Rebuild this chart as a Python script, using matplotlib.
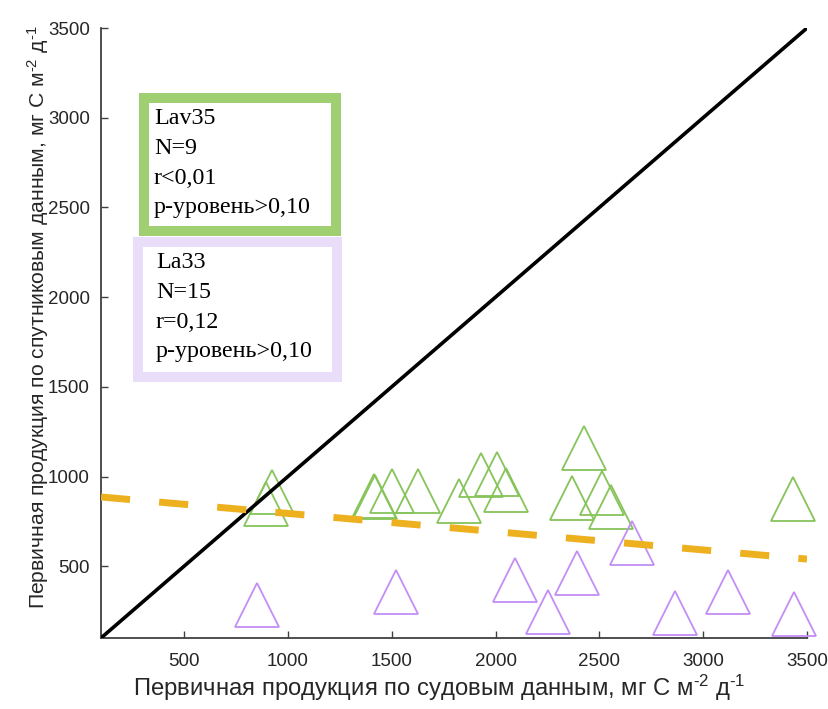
import matplotlib
matplotlib.use("Agg")
import matplotlib.pyplot as plt
from matplotlib.patches import Rectangle

plt.rcParams["mathtext.fontset"] = "custom"
plt.rcParams["mathtext.rm"] = "Liberation Sans"
plt.rcParams["mathtext.it"] = "Liberation Sans"
plt.rcParams["mathtext.default"] = "regular"

# Ship-based PP (x) vs satellite PP (y), mg C m-2 d-1
green_x = [924, 893, 1415, 1420, 1503, 1625, 1824, 1929, 2009, 2050, 2428, 2367, 2514, 2556, 3434]
green_y = [914, 849, 892, 886, 918, 918, 864, 1007, 1014, 923, 1160, 879, 909, 829, 872]
purple_x = [849, 1521, 2094, 2254, 2391, 2656, 2866, 3118, 3437]
purple_y = [282, 358, 423, 246, 461, 630, 242, 358, 231]

one_to_one = [100, 3500]
trend_x = [100, 3500]
trend_y = [886, 540]

ticks = [500, 1000, 1500, 2000, 2500, 3000, 3500]

box1_lines = ["Lav35", "N=9", "r<0,01", "p-уровень>0,10"]
box2_lines = ["La33", "N=15", "r=0,12", "p-уровень>0,10"]

W, H = 829, 709
fig = plt.figure(figsize=(W / 100, H / 100), dpi=100)
ax = fig.add_axes([101 / W, 1 - 638 / H, (807 - 101) / W, (638 - 28) / H])

axis_col = "#404040"
ax.plot(one_to_one, one_to_one, color="black", lw=2.6, zorder=3, solid_capstyle="butt")
ax.plot(trend_x, trend_y, color="#EDB120", lw=5, dashes=(4.2, 4.2), zorder=4)
ax.plot(green_x, green_y, linestyle="none", marker="^", ms=31, mfc="none",
        mec="#86C45A", mew=1.3, zorder=2, clip_on=False)
ax.plot(purple_x, purple_y, linestyle="none", marker="^", ms=31, mfc="none",
        mec="#C28EF5", mew=1.3, zorder=2, clip_on=False)

ax.set_xlim(100, 3500)
ax.set_ylim(100, 3500)
ax.set_xticks(ticks)
ax.set_yticks(ticks)
ax.set_xticklabels([str(t) for t in ticks])
ax.set_yticklabels([str(t) for t in ticks])
for s in ["top", "right"]:
    ax.spines[s].set_visible(False)
for s in ["left", "bottom"]:
    ax.spines[s].set_color(axis_col)
    ax.spines[s].set_linewidth(1.3)
ax.tick_params(direction="in", length=5, width=1.0, color=axis_col,
               labelsize=13.5, labelcolor="#262626")
ax.tick_params(axis="x", pad=11)
ax.tick_params(axis="y", pad=8)
for lab in ax.get_xticklabels() + ax.get_yticklabels():
    lab.set_family("Liberation Sans")

ax.set_xlabel("Первичная продукция по судовым данным, мг С м$^{\\text{-2}}$ д$^{\\text{-1}}$",
              fontsize=17.2, family="Liberation Sans", color="#262626")
ax.set_ylabel("Первичная продукция по спутниковым данным, мг С м$^{\\text{-2}}$ д$^{\\text{-1}}$",
              fontsize=15.2, family="Liberation Sans", color="#262626")
ax.xaxis.set_label_coords((439 - 101) / 706, -(673 - 638) / 610)
ax.yaxis.set_label_coords(-(101 - 51) / 706, (638 - 317) / 610)


def px_rect(x0, y0, x1, y1, color):
    # coordinates in figure pixels from top-left
    r = Rectangle((x0 / W, 1 - y1 / H), (x1 - x0) / W, (y1 - y0) / H,
                  transform=fig.transFigure, facecolor="white", edgecolor=color,
                  linewidth=7.2, zorder=10)
    fig.add_artist(r)


px_rect(144, 98, 336, 231, "#A0CF72")
px_rect(138, 242, 337, 377, "#EADDFA")

for i, t in enumerate(box1_lines):
    fig.text(154 / W, 1 - (118 + i * 30) / H, t, fontsize=17.3, family="Liberation Serif",
             va="center", ha="left", color="black", zorder=11)
for i, t in enumerate(box2_lines):
    fig.text(156 / W, 1 - (262 + i * 30) / H, t, fontsize=17.3, family="Liberation Serif",
             va="center", ha="left", color="black", zorder=11)

fig.savefig("out.png", dpi=100)
